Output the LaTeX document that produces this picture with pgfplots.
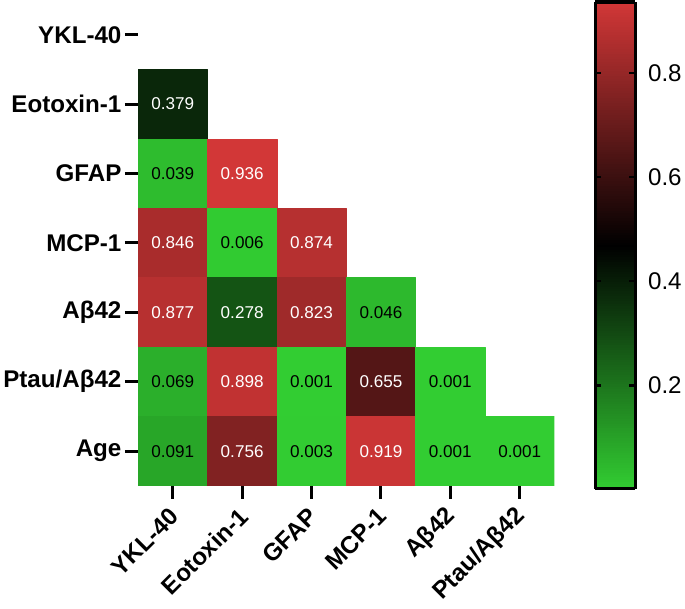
\documentclass[border=0pt]{standalone}
\usepackage{pgfplots}
\pgfplotsset{compat=1.18}
\usepackage{fontspec}
\setmainfont{Liberation Sans}
\begin{document}
\begin{tikzpicture}
\begin{axis}[
  scale only axis, width=414pt, height=483pt,
  xmin=-0.5, xmax=5.5, ymin=-0.5, ymax=6.5, y dir=reverse,
  axis line style={draw=none},
  xtick={0,...,5}, ytick={0,...,6},
  xticklabels={YKL-40,Eotoxin-1,GFAP,MCP-1,Aβ42,Ptau/Aβ42},
  yticklabels={YKL-40,Eotoxin-1,GFAP,MCP-1,Aβ42,Ptau/Aβ42,Age},
  xtick pos=bottom, ytick pos=left,
  tick align=outside, major tick length=13pt,
  tick style={line width=3pt, black},
  ticklabel style={font=\bfseries\fontsize{24}{26}\selectfont},
  x tick label style={xshift=4pt, yshift=-11pt, rotate=45, anchor=east},
  colormap={gbr}{rgb255=(50,205,50) rgb255=(0,0,0) rgb255=(210,55,55)},
  point meta min=0.001, point meta max=0.936,
  colorbar sampled,
  colorbar style={
    at={(parent axis.north east)}, anchor=north west, xshift=32pt, yshift=-2pt,
    scale only axis, width=40pt, height=484pt,
    samples=200, axis on top,
    ytick={0.2,0.4,0.6,0.8},
    ytick pos=both, yticklabel pos=right,
    axis line style={line width=3.2pt, black},
    tick align=inside, major tick length=6pt,
    tick style={line width=2.5pt, black},
    yticklabel style={font=\fontsize{24}{26}\selectfont, xshift=9pt, /pgf/number format/assume math mode=true},
  },
  lab/.style={draw=none, mark=none, point meta=explicit symbolic,
    nodes near coords, nodes near coords align=center,
    every node near coord/.append style={anchor=center, font=\fontsize{17}{17}\selectfont}},
]
% heatmap cells: four corners of each cell, value as colour
\addplot[patch, patch type=rectangle, shader=flat, point meta=explicit]
  table[x=x, y=y, meta=v] {
x y v
-0.5 0.5 0.379
0.5 0.5 0.379
0.5 1.5 0.379
-0.5 1.5 0.379
-0.5 1.5 0.039
0.5 1.5 0.039
0.5 2.5 0.039
-0.5 2.5 0.039
0.5 1.5 0.936
1.5 1.5 0.936
1.5 2.5 0.936
0.5 2.5 0.936
-0.5 2.5 0.846
0.5 2.5 0.846
0.5 3.5 0.846
-0.5 3.5 0.846
0.5 2.5 0.006
1.5 2.5 0.006
1.5 3.5 0.006
0.5 3.5 0.006
1.5 2.5 0.874
2.5 2.5 0.874
2.5 3.5 0.874
1.5 3.5 0.874
-0.5 3.5 0.877
0.5 3.5 0.877
0.5 4.5 0.877
-0.5 4.5 0.877
0.5 3.5 0.278
1.5 3.5 0.278
1.5 4.5 0.278
0.5 4.5 0.278
1.5 3.5 0.823
2.5 3.5 0.823
2.5 4.5 0.823
1.5 4.5 0.823
2.5 3.5 0.046
3.5 3.5 0.046
3.5 4.5 0.046
2.5 4.5 0.046
-0.5 4.5 0.069
0.5 4.5 0.069
0.5 5.5 0.069
-0.5 5.5 0.069
0.5 4.5 0.898
1.5 4.5 0.898
1.5 5.5 0.898
0.5 5.5 0.898
1.5 4.5 0.001
2.5 4.5 0.001
2.5 5.5 0.001
1.5 5.5 0.001
2.5 4.5 0.655
3.5 4.5 0.655
3.5 5.5 0.655
2.5 5.5 0.655
3.5 4.5 0.001
4.5 4.5 0.001
4.5 5.5 0.001
3.5 5.5 0.001
-0.5 5.5 0.091
0.5 5.5 0.091
0.5 6.5 0.091
-0.5 6.5 0.091
0.5 5.5 0.756
1.5 5.5 0.756
1.5 6.5 0.756
0.5 6.5 0.756
1.5 5.5 0.003
2.5 5.5 0.003
2.5 6.5 0.003
1.5 6.5 0.003
2.5 5.5 0.919
3.5 5.5 0.919
3.5 6.5 0.919
2.5 6.5 0.919
3.5 5.5 0.001
4.5 5.5 0.001
4.5 6.5 0.001
3.5 6.5 0.001
4.5 5.5 0.001
5.5 5.5 0.001
5.5 6.5 0.001
4.5 6.5 0.001
};
% numbers in white
\addplot[lab, every node near coord/.append style={text=white}]
  table[x=x, y=y, meta=t] {
x y t
0 1 0.379
1 2 0.936
0 3 0.846
2 3 0.874
0 4 0.877
1 4 0.278
2 4 0.823
1 5 0.898
3 5 0.655
1 6 0.756
3 6 0.919
};
% numbers in black
\addplot[lab, every node near coord/.append style={text=black}]
  table[x=x, y=y, meta=t] {
x y t
0 2 0.039
1 3 0.006
3 4 0.046
0 5 0.069
2 5 0.001
4 5 0.001
0 6 0.091
2 6 0.003
4 6 0.001
5 6 0.001
};
\end{axis}
\end{tikzpicture}
\end{document}
